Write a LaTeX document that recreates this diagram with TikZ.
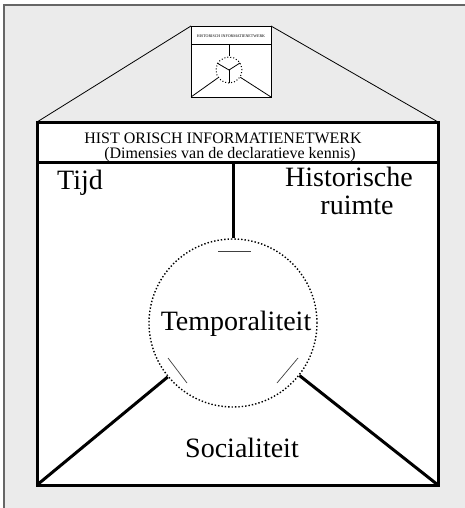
\documentclass[tikz,border=0pt]{standalone}
\usepackage{fontspec}
\setmainfont{Liberation Serif}
\begin{document}
\begin{tikzpicture}[x=1pt,y=-1pt,
  boxline/.style={line width=3pt},
  thinline/.style={line width=0.8pt},
  tickline/.style={line width=0.7pt, black!75},
  big/.style={font=\fontsize{28}{30}\selectfont, inner sep=0pt, anchor=base},
  headtext/.style={font=\fontsize{16}{17}\selectfont, inner sep=0pt, anchor=base},
  hub/.style={circle, draw, dotted, line width=1.4pt, inner sep=0pt},
  minihub/.style={circle, draw, dotted, line width=1pt, inner sep=0pt, minimum size=26pt}]
\useasboundingbox (0,0) rectangle (465,508);
% page and grey panel
\fill[white] (0,0) rectangle (465,508);
\fill[black!8] (4,5) rectangle (465,508);
\draw[black!60, line width=1.5pt] (4,508) -- (4,5) -- (465,5);

% corners of the main frame
\coordinate (TL) at (37,122);
\coordinate (TR) at (438,122);
\coordinate (BL) at (37,485);
\coordinate (BR) at (438,485);
\coordinate (HL) at (37,162);
\coordinate (HR) at (438,162);
\coordinate (stem) at (233,162);

% corners of the small thumbnail
\coordinate (tTL) at (191,26);
\coordinate (tTR) at (271,26);
\coordinate (tBL) at (191,97);
\coordinate (tBR) at (271,97);
\coordinate (tHL) at (191,44);
\coordinate (tHR) at (271,44);
\coordinate (tstem) at (229,44);

% roof lines from the frame up to the thumbnail
\draw[thinline] (TL) -- (tTL);
\draw[thinline] (TR) -- (tTR);

% thumbnail
\filldraw[fill=white, thinline] (tTL) rectangle (tBR);
\draw[thinline] (tHL) -- (tHR);
\node[inner sep=0pt, font=\fontsize{4}{5}\selectfont] (ttitle) at (231,36) {HISTORISCH INFORMATIENETWERK};
\node[minihub] (mini) at (229,70) {};
\draw[line width=1pt] (tstem) -- (mini.north);
\draw[line width=0.8pt] (mini.center) -- (217,63);
\draw[line width=0.8pt] (mini.center) -- (240,63);
\draw[line width=0.8pt] (mini.center) -- (mini.south);
\draw[thinline] (tBL) -- (mini);
\draw[thinline] (tBR) -- (mini);

% main frame with header band
\filldraw[fill=white, boxline] (TL) rectangle (BR);
\draw[boxline] (HL) -- (HR);
\node[headtext] (title) at (223,143) {HIST ORISCH INFORMATIENETWERK};
\node[headtext] (subtitle) at (230,158) {(Dimensies van de declaratieve kennis)};

% central circle and its three spokes
\node[hub, minimum size=168pt] (temp) at (233,323) {};
\node[big] (templabel) at (236,330) {Temporaliteit};
\draw[boxline] (stem) -- (temp.north);
\draw[boxline] (BL) -- (temp);
\draw[boxline] (BR) -- (temp);

% short ticks inside the circle, across each spoke
\draw[tickline] (218,251) -- (251,251);
\draw[tickline] (168,358) -- (187,383);
\draw[tickline] (298,358) -- (277,383);

% dimension labels
\node[big] (tijd) at (80,189) {Tijd};
\node[big] (hist) at (349,186) {Historische};
\node[big] (ruimte) at (357,214) {ruimte};
\node[big] (soc) at (242,457) {Socialiteit};
\end{tikzpicture}
\end{document}
